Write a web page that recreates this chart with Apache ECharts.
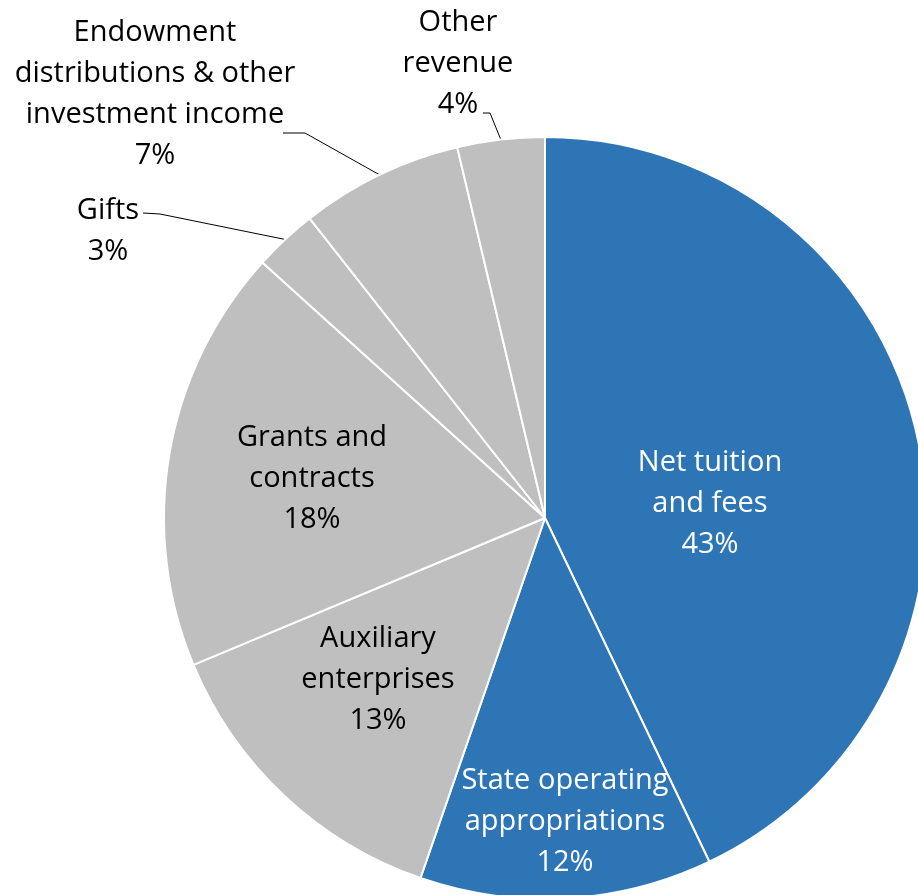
<!DOCTYPE html>
<html>
<head>
<meta charset="utf-8">
<script src="https://cdn.jsdelivr.net/npm/echarts@6/dist/echarts.min.js"></script>
<style>
html,body{margin:0;padding:0;background:#fff;}
#chart{width:918px;height:895px;}
</style>
</head>
<body>
<div id="chart"></div>
<script>
// Data (clockwise from 12 o'clock)
const categories = [
  'Net tuition\nand fees',
  'State operating\nappropriations',
  'Auxiliary\nenterprises',
  'Grants and\ncontracts',
  'Gifts',
  'Endowment\ndistributions & other\ninvestment income',
  'Other\nrevenue'
];
const shares = [42.9, 12.4, 13.4, 18.0, 2.7, 6.9, 3.7];

// Styling / layout (not data)
const BLUE = '#2E75B6', GREY = '#BFBFBF';
const sliceColors = [BLUE, BLUE, GREY, GREY, GREY, GREY, GREY];
const labelColors = ['#fff', '#fff', '#000', '#000', '#000', '#000', '#000'];
const outside = [false, false, false, false, true, true, true];
const CX = 545, CY = 518, R = 381;
// label block centre relative to pie centre
const labelOffsets = [[165, -14], [20, 304], [-167, 162], [-233, -39], [-437, -287], [-390, -424], [-87, -454]];
// leader-line start and bend relative to label centre
const leaderOffsets = {4: [[35, -18], [52, -17]], 5: [[128, 39], [150, 39]], 6: [[25, 49], [32, 49]]};

const chart = echarts.init(document.getElementById('chart'), null, {renderer: 'canvas'});
const data = categories.map((name, i) => ({
  name: name,
  value: shares[i],
  itemStyle: {color: sliceColors[i]},
  label: {position: outside[i] ? 'outside' : 'inside', color: labelColors[i]},
  labelLine: {show: outside[i]}
}));

chart.setOption({
  animation: false,
  series: [{
    type: 'pie',
    center: [CX, CY],
    radius: [0, R],
    startAngle: 90,
    clockwise: true,
    avoidLabelOverlap: false,
    itemStyle: {borderColor: '#fff', borderWidth: 2},
    label: {
      show: true,
      fontFamily: 'Open Sans',
      fontSize: 29,
      lineHeight: 41,
      align: 'center',
      formatter: p => p.name + '\n' + Math.round(p.value) + '%'
    },
    labelLine: {show: true, length: 10, length2: 10, lineStyle: {color: '#000', width: 1}},
    emphasis: {disabled: true},
    labelLayout: function (p) {
      const i = p.dataIndex;
      const lx = CX + labelOffsets[i][0], ly = CY + labelOffsets[i][1];
      const res = {x: lx, y: ly, align: 'center', verticalAlign: 'middle'};
      if (leaderOffsets[i] && p.labelLinePoints) {
        const a = leaderOffsets[i];
        res.labelLinePoints = [
          [lx + a[0][0], ly + a[0][1]],
          [lx + a[1][0], ly + a[1][1]],
          p.labelLinePoints[0]
        ];
      }
      return res;
    },
    data: data
  }]
});
</script>
</body>
</html>
